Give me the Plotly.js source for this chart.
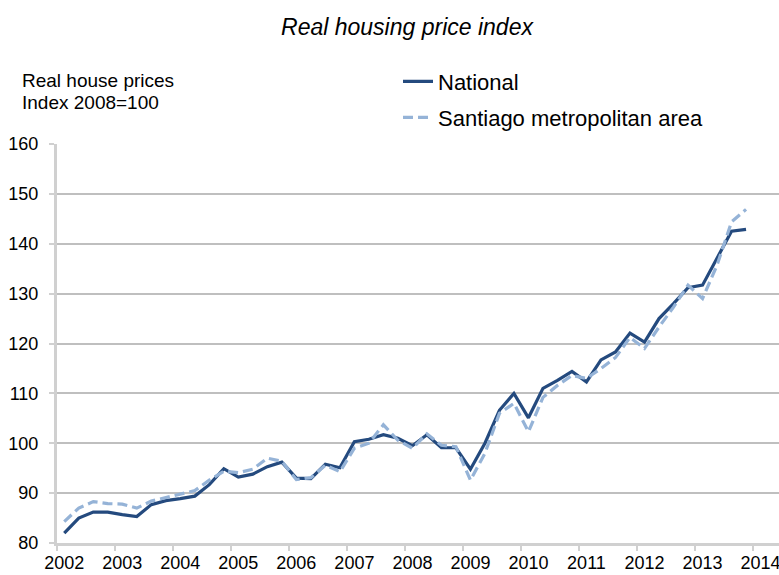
<!DOCTYPE html>
<html>
<head>
<meta charset="utf-8">
<script src="https://cdn.plot.ly/plotly-3.0.1.min.js"></script>
<style>html,body{margin:0;padding:0;background:#fff;}#chart{width:779px;height:575px;}</style>
</head>
<body>
<div id="chart"></div>
<script>
// Quarterly observations, 2002Q1 - 2013Q4
const quarters = [
  "2002-Q1","2002-Q2","2002-Q3","2002-Q4","2003-Q1","2003-Q2","2003-Q3","2003-Q4",
  "2004-Q1","2004-Q2","2004-Q3","2004-Q4","2005-Q1","2005-Q2","2005-Q3","2005-Q4",
  "2006-Q1","2006-Q2","2006-Q3","2006-Q4","2007-Q1","2007-Q2","2007-Q3","2007-Q4",
  "2008-Q1","2008-Q2","2008-Q3","2008-Q4","2009-Q1","2009-Q2","2009-Q3","2009-Q4",
  "2010-Q1","2010-Q2","2010-Q3","2010-Q4","2011-Q1","2011-Q2","2011-Q3","2011-Q4",
  "2012-Q1","2012-Q2","2012-Q3","2012-Q4","2013-Q1","2013-Q2","2013-Q3","2013-Q4"
];
const national = [
  82.0, 85.0, 86.2, 86.2, 85.7, 85.3, 87.7, 88.5,
  88.9, 89.4, 91.7, 94.9, 93.2, 93.8, 95.3, 96.2,
  93.0, 92.9, 95.8, 95.1, 100.3, 100.8, 101.7, 101.0,
  99.5, 101.7, 99.1, 99.1, 94.8, 100.0, 106.6, 110.0,
  105.1, 111.0, 112.6, 114.4, 112.3, 116.7, 118.3, 122.1,
  120.3, 125.0, 128.0, 131.2, 131.7, 137.0, 142.5, 142.9
];
const santiago = [
  84.3, 87.0, 88.3, 87.9, 87.8, 87.0, 88.4, 89.1,
  89.7, 90.5, 92.6, 94.4, 94.1, 94.8, 97.0, 96.4,
  92.7, 93.1, 95.6, 94.3, 99.0, 100.0, 103.7, 100.6,
  99.0, 101.9, 99.6, 99.3, 92.6, 98.0, 106.0, 108.0,
  102.3, 109.2, 111.6, 113.6, 113.0, 115.0, 117.2, 121.2,
  119.0, 123.3, 127.3, 131.7, 129.0, 135.7, 144.4, 146.9
];
const yearLabels = ["2002","2003","2004","2005","2006","2007","2008","2009","2010","2011","2012","2013","2014"];
const seriesNames = ["National", "Santiago metropolitan area"];
const yTitleLines = ["Real house prices", "Index 2008=100"];

// quarter label -> numeric position (middle of the quarter)
const xq = quarters.map(q => {
  const [y, qq] = q.split("-Q");
  return Number(y) + (Number(qq) - 0.5) / 4;
});
const labelPos = yearLabels.map(y => Number(y) + 0.125);
const yearTicks = yearLabels.map(y => Number(y));

const FONT = "Liberation Sans, Arial, Helvetica, sans-serif";
const GRID = "#bfbfbf";
const AXIS = "#d0d0d0";

const traces = [
  {x: xq, y: national, name: seriesNames[0], type: "scatter", mode: "lines",
   line: {color: "#244a7e", width: 3.2}, legend: "legend"},
  {x: xq, y: santiago, name: seriesNames[1], type: "scatter", mode: "lines",
   line: {color: "#95b3d7", width: 3.2, dash: "10px,5px"}, legend: "legend2"}
];

const PT = 143.5, PH = 400, PL = 57, PW = 722;
const py = px => 1 + (PT - px) / PH;
const pxX = px => (px - PL) / PW;

const layout = {
  width: 779, height: 575,
  margin: {l: PL, r: 0, t: PT, b: 575 - PT - PH},
  paper_bgcolor: "#fff", plot_bgcolor: "#fff",
  font: {family: FONT, color: "#000", size: 18},
  title: {text: "<i>Real housing price index</i>", font: {family: FONT, size: 23, color: "#000"},
          x: 407/779, xref: "container", xanchor: "center", y: 1 - 27/575, yref: "container", yanchor: "middle"},
  showlegend: true,
  legend: {x: pxX(398), xanchor: "left", y: py(81), yanchor: "middle",
           font: {family: FONT, size: 22, color: "#000"}, bgcolor: "rgba(0,0,0,0)", borderwidth: 0},
  legend2: {x: pxX(398), xanchor: "left", y: py(117), yanchor: "middle",
           font: {family: FONT, size: 22, color: "#000"}, bgcolor: "rgba(0,0,0,0)", borderwidth: 0},
  xaxis: {
    range: [2002, 2014.443], showgrid: false, zeroline: false,
    showline: true, linecolor: AXIS, linewidth: 3,
    tickmode: "array", tickvals: labelPos, ticktext: yearLabels,
    ticks: "outside", ticklen: 1, tickcolor: "rgba(0,0,0,0)",
    ticklabelstandoff: 0, ticklabeloverflow: "allow",
    tickfont: {family: FONT, size: 18, color: "#000"},
    minor: {tickmode: "array", tickvals: yearTicks, ticks: "outside", ticklen: 5, tickwidth: 2, tickcolor: AXIS, showgrid: false}
  },
  yaxis: {
    range: [80, 160], dtick: 10, tick0: 80,
    showgrid: true, gridcolor: GRID, gridwidth: 2, zeroline: false,
    showline: true, linecolor: AXIS, linewidth: 3,
    ticks: "outside", ticklen: 5, tickwidth: 2, tickcolor: AXIS,
    ticklabelstandoff: 7,
    tickfont: {family: FONT, size: 18, color: "#000"}
  },
  annotations: yTitleLines.map((t, i) => ({
    text: t, xref: "paper", yref: "paper",
    x: pxX(20), xanchor: "left", y: py(80 + 22 * i), yanchor: "middle",
    align: "left", showarrow: false, font: {family: FONT, size: 19, color: "#000"}
  }))
};

Plotly.newPlot("chart", traces, layout, {displayModeBar: false, staticPlot: true});
</script>
</body>
</html>
